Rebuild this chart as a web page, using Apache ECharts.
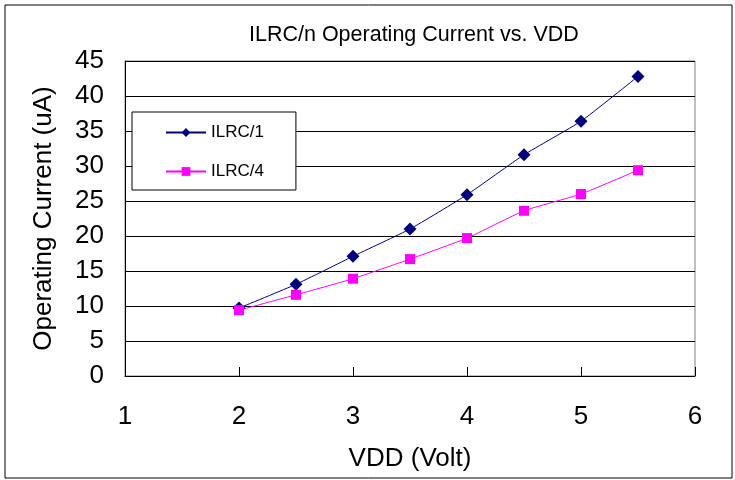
<!DOCTYPE html>
<html>
<head>
<meta charset="utf-8">
<script src="https://cdn.jsdelivr.net/npm/echarts@6/dist/echarts.min.js"></script>
<style>
  html, body { margin: 0; padding: 0; background: #fff; }
  #container { width: 735px; height: 480px; }
</style>
</head>
<body>
<div id="container"></div>
<script>
// data
var vdd = [2, 2.5, 3, 3.5, 4, 4.5, 5, 5.5]
var ilrc1 = [9.7, 13.1, 17.1, 21.0, 25.9, 31.6, 36.4, 42.8]
var ilrc4 = [9.4, 11.6, 13.9, 16.7, 19.7, 23.6, 26.0, 29.4]
var seriesNames = ['ILRC/1', 'ILRC/4']

function pairs(xs, ys) {
    var out = []
    for (var i = 0; i < xs.length; i++) {
        out.push([xs[i], ys[i]])
    }
    return out
}

var dom = document.getElementById('container')
var myChart = echarts.init(dom, null, { renderer: 'canvas' })
var font = 'Liberation Sans, Arial, sans-serif'

var option = {
    animation: false,
    backgroundColor: '#fff',
    textStyle: { fontFamily: font, color: '#000' },
    title: {
        text: 'ILRC/n Operating Current vs. VDD',
        left: 249,
        top: 24,
        padding: 0,
        textStyle: { fontSize: 21.5, fontWeight: 'normal', color: '#000', fontFamily: font }
    },
    graphic: [{
        type: 'rect',
        shape: { x: 5, y: 5, width: 727, height: 473 },
        style: { fill: null, stroke: '#000', lineWidth: 1 },
        silent: true,
        z: -1
    }],
    legend: {
        orient: 'vertical',
        left: 132,
        top: 112,
        padding: [12, 32, 10, 33],
        itemGap: 22,
        itemWidth: 40,
        itemHeight: 11,
        backgroundColor: '#fff',
        borderColor: '#000',
        borderWidth: 1,
        borderRadius: 0,
        textStyle: { fontSize: 17, color: '#000', fontFamily: font },
        data: seriesNames
    },
    grid: {
        left: 125,
        right: 40,
        top: 61,
        bottom: 104,
        show: true,
        borderColor: '#808080',
        borderWidth: 1
    },
    xAxis: {
        type: 'value',
        min: 1,
        max: 6,
        interval: 1,
        name: 'VDD (Volt)',
        nameLocation: 'middle',
        nameGap: 70,
        nameTextStyle: { fontSize: 26, color: '#000', fontFamily: font },
        axisLine: { show: true, onZero: false, lineStyle: { color: '#000', width: 1 } },
        axisTick: { show: true, inside: true, length: 9, lineStyle: { color: '#000' } },
        axisLabel: { fontSize: 26, color: '#000', margin: 28, fontFamily: font },
        splitLine: { show: false }
    },
    yAxis: {
        type: 'value',
        min: 0,
        max: 45,
        interval: 5,
        name: 'Operating Current (uA)',
        nameLocation: 'middle',
        nameGap: 68,
        nameTextStyle: { fontSize: 26, color: '#000', fontFamily: font },
        axisLine: { show: true, lineStyle: { color: '#000', width: 1 } },
        axisTick: { show: true, inside: true, length: 6, lineStyle: { color: '#000' } },
        axisLabel: { fontSize: 26, color: '#000', margin: 21, fontFamily: font },
        splitLine: { show: true, lineStyle: { color: '#000', width: 1 } }
    },
    series: [{
        name: seriesNames[0],
        type: 'line',
        data: pairs(vdd, ilrc1),
        smooth: 0.15,
        symbol: 'diamond',
        symbolSize: 13,
        itemStyle: { color: '#000080' },
        lineStyle: { color: '#000080', width: 1 },
        z: 3
    }, {
        name: seriesNames[1],
        type: 'line',
        data: pairs(vdd, ilrc4),
        smooth: 0.15,
        symbol: 'rect',
        symbolSize: 10,
        itemStyle: { color: '#FF00FF' },
        lineStyle: { color: '#FF00FF', width: 1 },
        z: 4
    }]
}

myChart.setOption(option)
</script>
</body>
</html>
